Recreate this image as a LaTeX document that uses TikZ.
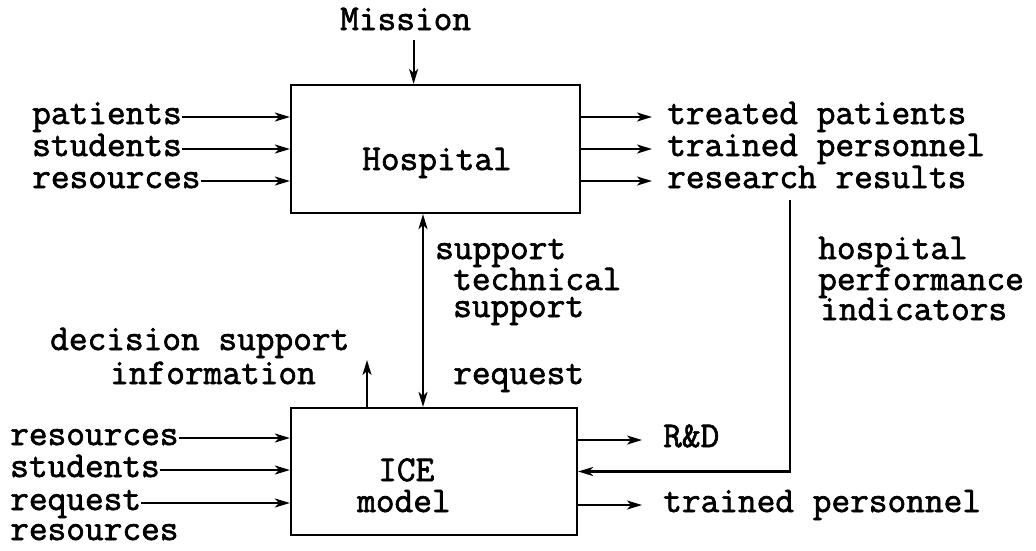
\documentclass[tikz,border=0pt]{standalone}
\usepackage{fontspec}
\setmonofont{Latin Modern Mono}[FakeBold=1.8]
\usetikzlibrary{arrows.meta}
\begin{document}
\begin{tikzpicture}[x=1pt,y=-1pt,
  txt/.style={anchor=west,inner sep=0pt,text height=17pt,text depth=3pt,
    font=\fontsize{36.3}{32}\ttfamily},
  box/.style={draw,line width=2.2pt,inner sep=0pt},
  tip/.tip={Stealth[length=15pt,width=9pt,inset=4pt]},
  flow/.style={line width=2.1pt,-tip},
  both/.style={line width=2.1pt,tip-tip}]
\useasboundingbox (0,0) rectangle (1036,550);

% process boxes
\node[box,minimum width=289pt,minimum height=128pt] (hosp) at (435.5,149) {};
\node[box,minimum width=286pt,minimum height=127pt] (ice) at (434,471.5) {};
\node[txt] (hosptxt) at (362,163) {Hospital};
\node[txt] (icetxt) at (378,474) {ICE};
\node[txt] (modeltxt) at (357,505) {model};

% control
\node[txt] (mission) at (340,23) {Mission};
\draw[flow] ([xshift=8pt,yshift=-7pt]mission.south) -- ([xshift=8pt]mission.south |- hosp.north);

% hospital inputs
\node[txt] (pat) at (32,117) {patients};
\node[txt] (stu) at (32,149) {students};
\node[txt] (res) at (32,181) {resources};
\foreach \n in {pat,stu,res}
  \draw[flow] (\n.east) -- (\n.east -| hosp.west);

% hospital outputs
\node[txt] (tp) at (667,117) {treated patients};
\node[txt] (tr) at (667,149) {trained personnel};
\node[txt] (rr) at (667,181) {research results};
\foreach \n in {tp,tr,rr}
  \draw[flow] (\n.west -| hosp.east) -- ([xshift=-15pt]\n.west);

% support / request link
\coordinate (link) at ([xshift=-12.5pt]hosp.south);
\draw[both] (link) -- (link |- ice.north);
\node[txt] (sup1) at (435,252) {support};
\node[txt] (tech) at (453,283) {technical};
\node[txt] (sup2) at (453,310) {support};
\node[txt] (req) at (453,377) {request};

% performance feedback
\coordinate (fb) at (790,200);
\draw[flow] (fb) |- (ice.east);
\node[txt] (hp1) at (818,252) {hospital};
\node[txt] (hp2) at (818,283) {performance};
\node[txt] (hp3) at (820,313) {indicators};

% decision support output
\coordinate (dsi) at (367,360);
\draw[flow] (dsi |- ice.north) -- (dsi);
\node[txt] (ds1) at (50,343) {decision support};
\node[txt] (ds2) at (110,377) {information};

% ICE inputs
\node[txt] (ires) at (10,438) {resources};
\node[txt] (istu) at (10,470) {students};
\node[txt] (ireq) at (10,503) {request};
\node[txt] (ireq2) at (10,533) {resources};
\foreach \n in {ires,istu,ireq}
  \draw[flow] (\n.east) -- (\n.east -| ice.west);

% ICE outputs
\node[txt] (rd) at (663,440) {R\&D};
\node[txt] (itr) at (663,505) {trained personnel};
\draw[flow] (rd.west -| ice.east) -- ([xshift=-21pt]rd.west);
\draw[flow] (itr.west -| ice.east) -- ([xshift=-21pt]itr.west);
\end{tikzpicture}
\end{document}
